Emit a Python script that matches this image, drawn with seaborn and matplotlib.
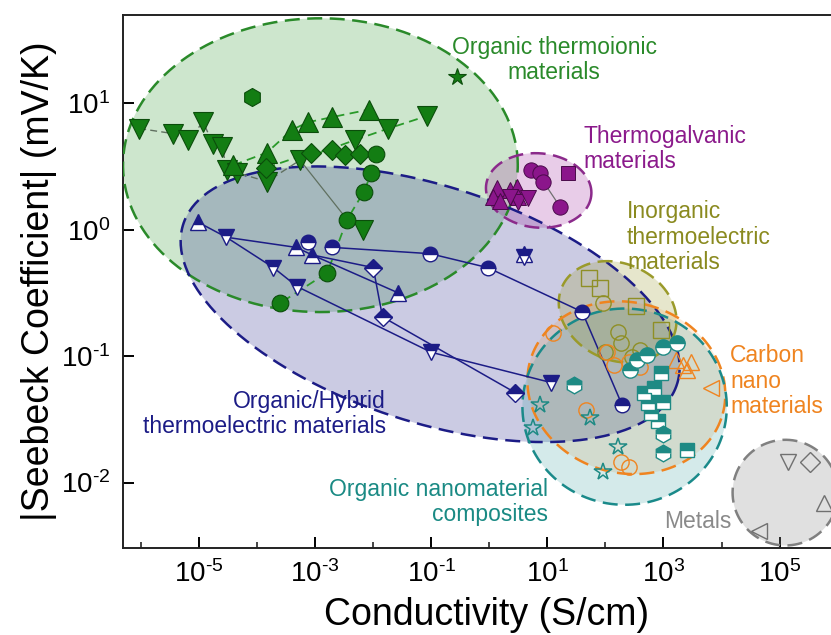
import numpy as np
import matplotlib
matplotlib.use("Agg")
import matplotlib.pyplot as plt
import seaborn as sns

# all values are log10 exponents
# x = conductivity (S/cm), y = |Seebeck| (mV/K)

# organic thermoionic (green)
tio_down_x = [-6.03, -5.45, -5.19, -4.93, -4.76, -4.60, -4.52, -4.34, -3.83, -3.26, -2.31, -1.74, -1.07, -2.17]
tio_down_y = [0.80, 0.76, 0.71, 0.85, 0.68, 0.65, 0.47, 0.45, 0.38, 0.55, 0.71, 0.80, 0.90, 0.00]
tio_up_x = [-4.41, -3.83, -3.40, -3.12, -2.71, -2.07]
tio_up_y = [0.51, 0.61, 0.79, 0.85, 0.89, 0.95]
tio_dia_x = [-3.84, -3.07, -2.71, -2.48, -2.22]
tio_dia_y = [0.49, 0.61, 0.63, 0.59, 0.60]
tio_circ_x = [-1.95, -2.03, -2.16, -2.45, -2.79, -3.60]
tio_circ_y = [0.60, 0.45, 0.30, 0.08, -0.34, -0.58]
tio_hex = (-4.09, 1.05)
tio_star = (-0.55, 1.21)

# organic/hybrid thermoelectric (navy, half filled)
hyb_up_x = [-5.02, -3.33, -3.05, -1.57, 0.59]
hyb_up_y = [0.06, -0.14, -0.20, -0.50, -0.19]
hyb_down_x = [-4.53, -3.72, -3.31, -1.00, 1.07, 0.59]
hyb_down_y = [-0.06, -0.30, -0.45, -0.97, -1.21, -0.22]
hyb_circ_x = [-3.12, -2.71, -1.02, -0.03, 1.60, 2.29]
hyb_circ_y = [-0.10, -0.14, -0.19, -0.30, -0.65, -1.39]
hyb_dia_x = [-2.00, -1.84, 0.45]
hyb_dia_y = [-0.30, -0.69, -1.29]
hyb_lines = [
    ([-5.02, -4.53, -3.33, -3.05, -2.00, -1.84, 0.45], [0.06, -0.06, -0.14, -0.20, -0.30, -0.69, -1.29]),
    ([-4.53, -3.72, -3.31, -1.00, 1.07], [-0.06, -0.30, -0.45, -0.97, -1.21]),
    ([-3.05, -1.57], [-0.20, -0.50]),
    ([-2.71, -1.02, -0.03, 1.60, 2.29], [-0.14, -0.19, -0.30, -0.65, -1.39]),
]

# thermogalvanic (purple)
tg_up_x = [0.14, 0.07, 0.36, 0.48, 0.50, 0.19]
tg_up_y = [0.33, 0.26, 0.31, 0.34, 0.26, 0.23]
tg_down_x = [0.50, 0.67, 0.36]
tg_down_y = [0.22, 0.25, 0.26]
tg_circ_x = [0.71, 0.88, 0.93, 1.22]
tg_circ_y = [0.47, 0.45, 0.38, 0.18]
tg_square = (1.36, 0.45)

# inorganic thermoelectric (olive, open)
ite_sq_x = [1.71, 1.90, 2.53, 2.95]
ite_sq_y = [-0.38, -0.46, -0.60, -0.79]
ite_circ_x = [1.95, 2.21, 2.26, 2.00, 2.45, 2.60]
ite_circ_y = [-0.58, -0.81, -0.90, -0.97, -1.01, -0.95]

# carbon nano materials (orange, open)
cnm_circ_x = [1.10, 2.03, 2.14, 2.40, 2.60, 1.66, 2.26, 2.40]
cnm_circ_y = [-0.82, -0.97, -1.07, -1.05, -1.09, -1.43, -1.84, -1.88]
cnm_tri_x = [3.21, 3.34, 3.47, 3.41]
cnm_tri_y = [-1.03, -1.07, -1.05, -1.11]
cnm_left = (3.81, -1.25)

# organic nanomaterial composites (teal)
onc_star_x = [0.88, 0.76, 1.74, 2.21, 1.95]
onc_star_y = [-1.39, -1.57, -1.49, -1.72, -1.92]
onc_circ_x = [3.00, 3.24, 2.55, 2.43, 2.72]
onc_circ_y = [-0.93, -0.90, -1.03, -1.11, -0.99]
onc_sq_x = [2.95, 2.83, 2.66, 2.74, 3.00, 2.78, 2.90, 3.41]
onc_sq_y = [-1.13, -1.25, -1.29, -1.37, -1.36, -1.45, -1.51, -1.74]
onc_hex_x = [1.45, 3.00, 3.00]
onc_hex_y = [-1.23, -1.62, -1.77]

# metals (gray, open)
metal_x = [5.14, 5.53, 5.76, 4.64]
metal_y = [-1.84, -1.84, -2.16, -2.38]
metal_markers = ['v', 'D', '^', '<']

# regions: centre (log x, log y), semi axes in x-decades, visual tilt (deg)
region_names = ['tio', 'hyb', 'tg', 'ite', 'cnm', 'onc', 'metal']
region_cx = [-2.91, -1.02, 0.85, 2.21, 2.36, 2.33, 5.10]
region_cy = [0.51, -0.59, 0.31, -0.65, -1.25, -1.40, -2.08]
region_a = [3.40, 4.47, 0.91, 1.05, 1.72, 1.76, 0.91]
region_b = [2.53, 2.03, 0.64, 0.83, 1.47, 1.69, 0.91]
region_ang = [0, -18, -5, -25, -15, 0, 0]

x_major = [-5, -3, -1, 1, 3, 5]
x_minor = [-6, -4, -2, 0, 2, 4, 6]
y_major = [-2, -1, 0, 1]

GREEN, GREEN_D = '#137d13', '#0b4d0b'
NAVY = '#1c1c86'
PURPLE = '#8b168b'
OLIVE = '#8f8f25'
ORANGE = '#ef8420'
TEAL = '#1e8a84'
region_edge = {'tio': '#2a8a2a', 'hyb': NAVY, 'tg': '#8b2a8b', 'ite': '#9a9a2a',
               'cnm': ORANGE, 'onc': '#1a8a8a', 'metal': '#808080'}
region_face = {'tio': ('#2e9a2e', 0.24), 'hyb': ('#26268c', 0.24), 'tg': ('#a02aa0', 0.24),
               'ite': ('#9a9a2a', 0.24), 'cnm': ('#f08a20', 0.16), 'onc': ('#2a9a9a', 0.2),
               'metal': ('#909090', 0.28)}


def p(v):
    return 10.0 ** np.asarray(v, dtype=float)


def pow_label(e):
    # short hyphen like the original figure
    s = str(e).replace('-', '\u2010')
    return '10$^{\\mathregular{' + s + '}}$'


sns.set_theme(style='ticks')
plt.rcParams['font.family'] = ['Liberation Sans', 'DejaVu Sans']
plt.rcParams['mathtext.fontset'] = 'custom'
plt.rcParams['mathtext.rm'] = 'Liberation Sans'
plt.rcParams['mathtext.it'] = 'Liberation Sans:italic'

fig = plt.figure(figsize=(8.31, 6.35), dpi=100)
ax = fig.add_axes([0.148, 0.137, 0.874, 0.839])
ax.set_xscale('log')
ax.set_yscale('log')
ax.set_xlim(10 ** -6.31, 10 ** 6.2)
ax.set_ylim(10 ** -2.518, 10 ** 1.696)

# ratio of pixels per y-decade to pixels per x-decade
bb = ax.get_position()
wpx = bb.width * fig.get_figwidth()
hpx = bb.height * fig.get_figheight()
k = (hpx / (1.696 + 2.518)) / (wpx / (6.2 + 6.31))

t = np.linspace(0, 2 * np.pi, 300)
for i, name in enumerate(region_names):
    th = np.deg2rad(region_ang[i])
    u, v = region_a[i] * np.cos(t), region_b[i] * np.sin(t)
    ex = region_cx[i] + u * np.cos(th) - v * np.sin(th)
    ey = region_cy[i] + (u * np.sin(th) + v * np.cos(th)) / k
    fc, al = region_face[name]
    ax.fill(p(ex), p(ey), color=fc, alpha=al, lw=0, zorder=1)
    ax.plot(p(ex), p(ey), color=region_edge[name], lw=1.8, ls=(0, (6, 3)), zorder=2)

# connectors
line_kw = dict(estimator=None, sort=False, legend=False, ax=ax)
sns.lineplot(x=p(tio_down_x[:10]), y=p(tio_down_y[:10]), color='#607060', lw=1.0, ls=(0, (5, 3)), **line_kw)
sns.lineplot(x=p(tio_down_x[9:13]), y=p(tio_down_y[9:13]), color='#2a9a2a', lw=1.3, ls=(0, (5, 3)), **line_kw)
sns.lineplot(x=p(tio_up_x), y=p(tio_up_y), color='#2a9a2a', lw=1.3, ls=(0, (5, 3)), **line_kw)
sns.lineplot(x=p(tio_dia_x), y=p(tio_dia_y), color='#2a9a2a', lw=1.3, ls=(0, (5, 3)), **line_kw)
sns.lineplot(x=p(tio_circ_x), y=p(tio_circ_y), color='#2a9a2a', lw=1.3, ls=(0, (5, 3)), **line_kw)
sns.lineplot(x=p([tio_down_x[9], tio_circ_x[3]]), y=p([tio_down_y[9], tio_circ_y[3]]), color='#607060', lw=0.9, **line_kw)
for lx, ly in hyb_lines:
    sns.lineplot(x=p(lx), y=p(ly), color=NAVY, lw=1.1, **line_kw)
sns.lineplot(x=p(tg_circ_x[2:]), y=p(tg_circ_y[2:]), color='#707070', lw=0.9, **line_kw)
for ax_line in ax.lines:
    ax_line.set_zorder(3)

ms_kw = dict(zorder=4, ls='none')

# green filled
ax.plot(p(tio_down_x), p(tio_down_y), marker='v', ms=14, mfc=GREEN, mec=GREEN_D, mew=0.8, **ms_kw)
ax.plot(p(tio_up_x), p(tio_up_y), marker='^', ms=14, mfc=GREEN, mec=GREEN_D, mew=0.8, **ms_kw)
ax.plot(p(tio_dia_x), p(tio_dia_y), marker='D', ms=10.5, mfc=GREEN, mec=GREEN_D, mew=0.8, **ms_kw)
ax.plot(p(tio_circ_x), p(tio_circ_y), marker='o', ms=12, mfc=GREEN, mec=GREEN_D, mew=0.8, **ms_kw)
ax.plot(p([tio_hex[0]]), p([tio_hex[1]]), marker='h', ms=13, mfc=GREEN, mec=GREEN_D, mew=0.8, **ms_kw)
ax.plot(p([tio_star[0]]), p([tio_star[1]]), marker='*', ms=13, mfc=GREEN, mec=GREEN_D, mew=0.8, **ms_kw)

# navy half filled
half = dict(fillstyle='top', mfc=NAVY, mfcalt='white', mec=NAVY, mew=1.0, **ms_kw)
ax.plot(p(hyb_up_x), p(hyb_up_y), marker='^', ms=11.5, **half)
ax.plot(p(hyb_down_x), p(hyb_down_y), marker='v', ms=11.5, **half)
ax.plot(p(hyb_circ_x), p(hyb_circ_y), marker='o', ms=10.5, **half)
ax.plot(p(hyb_dia_x), p(hyb_dia_y), marker='D', ms=9.5, **half)

# purple filled
ax.plot(p(tg_up_x), p(tg_up_y), marker='^', ms=12, mfc=PURPLE, mec='#4a0a4a', mew=0.7, **ms_kw)
ax.plot(p(tg_down_x), p(tg_down_y), marker='v', ms=12, mfc=PURPLE, mec='#4a0a4a', mew=0.7, **ms_kw)
ax.plot(p(tg_circ_x), p(tg_circ_y), marker='o', ms=11, mfc=PURPLE, mec='#4a0a4a', mew=0.7, **ms_kw)
ax.plot(p([tg_square[0]]), p([tg_square[1]]), marker='s', ms=10, mfc=PURPLE, mec='#4a0a4a', mew=0.7, **ms_kw)

# olive / orange open
ax.plot(p(ite_sq_x), p(ite_sq_y), marker='s', ms=11, mfc='none', mec=OLIVE, mew=1.0, **ms_kw)
ax.plot(p(ite_circ_x), p(ite_circ_y), marker='o', ms=11, mfc='none', mec=OLIVE, mew=1.0, **ms_kw)
ax.plot(p(cnm_circ_x), p(cnm_circ_y), marker='o', ms=11, mfc='none', mec=ORANGE, mew=1.0, **ms_kw)
ax.plot(p(cnm_tri_x), p(cnm_tri_y), marker='^', ms=11, mfc='none', mec=ORANGE, mew=1.0, **ms_kw)
ax.plot(p([cnm_left[0]]), p([cnm_left[1]]), marker='<', ms=12, mfc='none', mec=ORANGE, mew=1.0, **ms_kw)

# teal
thalf = dict(fillstyle='top', mfc=TEAL, mfcalt='white', mec=TEAL, mew=1.0, **ms_kw)
ax.plot(p(onc_star_x), p(onc_star_y), marker='*', ms=13, mfc='none', mec=TEAL, mew=1.1, **ms_kw)
ax.plot(p(onc_circ_x), p(onc_circ_y), marker='o', ms=11, **thalf)
ax.plot(p(onc_sq_x), p(onc_sq_y), marker='s', ms=10, **thalf)
ax.plot(p(onc_hex_x), p(onc_hex_y), marker='h', ms=12, **thalf)

# metals
for mx, my, mk in zip(metal_x, metal_y, metal_markers):
    ax.plot(p([mx]), p([my]), marker=mk, ms=12 if mk != 'D' else 10, mfc='none', mec='#707070', mew=1.0, **ms_kw)

# axes styling
ax.set_xticks(p(x_major), [pow_label(e) for e in x_major])
ax.set_xticks(p(x_minor), minor=True)
ax.set_yticks(p(y_major), [pow_label(e) for e in y_major])
ax.xaxis.set_minor_formatter(matplotlib.ticker.NullFormatter())
ax.yaxis.set_minor_locator(matplotlib.ticker.NullLocator())
ax.tick_params(axis='both', which='major', direction='in', length=8, width=1.4,
               labelsize=20, pad=9, colors='black')
ax.tick_params(axis='x', which='minor', direction='in', length=4.5, width=1.2)
for s in ax.spines.values():
    s.set_linewidth(1.4)
    s.set_color('#222222')
ax.set_xlabel('Conductivity (S/cm)', fontsize=27, labelpad=6, color='black')
ax.set_ylabel('|Seebeck Coefficient| (mV/K)', fontsize=27, labelpad=3, color='black')

W, H = 831.0, 635.0


def lab(px, py, s, color, ha, ma=None):
    fig.text(px / W, 1 - py / H, s, color=color, fontsize=16.5, ha=ha, va='center',
             multialignment=ma or ha, linespacing=1.15)


lab(554, 60, 'Organic thermoionic\nmaterials', '#2a8a2a', 'center')
lab(583, 149, 'Thermogalvanic\nmaterials', '#8b1a8b', 'left')
lab(627, 237, 'Inorganic\nthermoelectric\nmaterials', '#8a8a1f', 'left')
lab(730, 381, 'Carbon\nnano\nmaterials', ORANGE, 'left')
lab(386, 414, 'Organic/Hybrid\nthermoelectric materials', '#1c1c86', 'right')
lab(548, 502, 'Organic nanomaterial\ncomposites', '#1a8a84', 'right')
lab(732, 522, 'Metals', '#8a8a8a', 'right')

fig.savefig('out.png', dpi=100)
